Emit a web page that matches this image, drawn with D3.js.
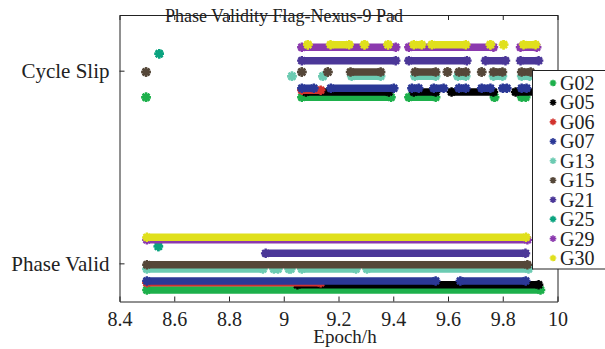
<!DOCTYPE html>
<html>
<head>
<meta charset="utf-8">
<script src="https://cdn.jsdelivr.net/npm/d3@7"></script>
<style>
  body { margin: 0; background: #fff; }
</style>
</head>
<body>
<div id="chart"></div>
<script>
// satellites, in plotting order
var sats = ["G02", "G05", "G06", "G07", "G13", "G15", "G21", "G25", "G29", "G30"];
var satColors = ["#1db04b", "#000000", "#d2322d", "#2b3896", "#6ccbb2",
                 "#554739", "#4b3798", "#0aa37f", "#8b39ae", "#e0e01c"];
// each satellite is shifted a little off its flag row
var satOffset = [-0.138, -0.111, -0.101, -0.091, -0.029, -0.007, 0.052, 0.088, 0.122, 0.135];

var flagNames = ["Phase Valid", "Cycle Slip"];   // flag 0, flag 1
var xTicks = [8.4, 8.6, 8.8, 9.0, 9.2, 9.4, 9.6, 9.8, 10.0];

// epochs (h) with flag = Phase Valid, as [start, end] runs; start == end is a single epoch
var validSpans = [
  [[8.50, 9.938]],
  [[9.05, 9.931]],
  [[8.50, 9.135]],
  [[8.50, 9.555], [9.645, 9.884]],
  [[8.50, 8.924], [8.964, 8.979], [9.019, 9.026], [9.066, 9.264], [9.304, 9.894]],
  [[8.50, 9.890]],
  [[8.934, 9.883]],
  [[8.542, 8.542]],
  [[8.50, 9.890]],
  [[8.50, 9.885]]
];

// epochs (h) with flag = Cycle Slip
var slipSpans = [
  [[8.497, 8.497], [9.066, 9.392], [9.457, 9.555], [9.770, 9.770], [9.869, 9.884]],
  [[9.081, 9.384], [9.475, 9.555], [9.613, 9.766], [9.847, 9.938]],
  [[9.066, 9.135]],
  [[9.066, 9.110], [9.172, 9.402], [9.468, 9.493], [9.548, 9.584], [9.640, 9.665],
   [9.723, 9.755], [9.800, 9.815], [9.869, 9.887]],
  [[9.030, 9.030], [9.143, 9.143], [9.248, 9.354], [9.479, 9.555], [9.636, 9.665],
   [9.766, 9.799], [9.869, 9.898]],
  [[8.497, 8.497], [9.066, 9.066], [9.161, 9.161], [9.244, 9.354], [9.480, 9.555],
   [9.598, 9.598], [9.640, 9.665], [9.723, 9.723], [9.766, 9.799], [9.869, 9.902]],
  [[9.066, 9.409], [9.457, 9.669], [9.737, 9.810], [9.865, 9.931]],
  [[8.545, 8.545]],
  [[9.066, 9.409], [9.457, 9.766], [9.865, 9.924]],
  [[9.088, 9.088], [9.171, 9.239], [9.295, 9.295], [9.381, 9.381], [9.475, 9.504],
   [9.541, 9.665], [9.755, 9.755], [9.803, 9.803], [9.876, 9.920]]
];

var W = 605, H = 349;
var plot = {left: 119.5, right: 557.5, top: 15, bottom: 301.5};
var serif = "'Liberation Serif', 'DejaVu Serif', serif";

var svg = d3.select("#chart").append("svg")
    .attr("width", W)
    .attr("height", H);

svg.append("rect").attr("width", W).attr("height", H).attr("fill", "#fff");

var x = d3.scaleLinear().domain([8.4, 10]).range([plot.left, plot.right]);
var y = d3.scaleLinear().domain([-0.198, 1.289]).range([plot.bottom, plot.top]);

// matlab style "*" marker, 8 arms
var star = {
  draw: function(ctx, size) {
    var r = Math.sqrt(size) / 2;
    for (var k = 0; k < 4; k++) {
      var a = k * Math.PI / 4;
      ctx.moveTo(r * Math.cos(a), r * Math.sin(a));
      ctx.lineTo(-r * Math.cos(a), -r * Math.sin(a));
    }
  }
};
var starPath = d3.symbol().type(star).size(90)();

// marks
var marks = svg.append("g");
sats.forEach(function(s, i) {
  [validSpans[i], slipSpans[i]].forEach(function(spans, flag) {
    var yy = y(flag + satOffset[i]);
    var g = marks.append("g")
      .attr("stroke", satColors[i])
      .attr("fill", "none");
    spans.forEach(function(sp) {
      if (sp[1] > sp[0]) {
        g.append("line")
          .attr("x1", x(sp[0])).attr("x2", x(sp[1]))
          .attr("y1", yy).attr("y2", yy)
          .attr("stroke-width", 7.5)
          .attr("stroke-linecap", "round");
      }
      [sp[0], sp[1]].forEach(function(v) {
        g.append("path")
          .attr("d", starPath)
          .attr("transform", "translate(" + x(v) + "," + yy + ")")
          .attr("stroke-width", 2.4);
      });
    });
  });
});

// axes (ticks point inward, box all round)
svg.append("g")
    .attr("transform", "translate(0," + plot.bottom + ")")
    .call(d3.axisBottom(x).tickValues(xTicks).tickSizeInner(-5).tickSizeOuter(0)
      .tickPadding(10).tickFormat(function(d) { return String(+d.toFixed(1)); }))
    .call(function(g) { g.selectAll("text").style("font-size", "20px"); });

svg.append("g")
    .attr("transform", "translate(0," + plot.top + ")")
    .call(d3.axisTop(x).tickValues(xTicks).tickSizeInner(-5).tickSizeOuter(0).tickFormat(""));

svg.append("g")
    .attr("transform", "translate(" + plot.left + ",0)")
    .call(d3.axisLeft(y).tickValues([0, 1]).tickSizeInner(-5).tickSizeOuter(0)
      .tickPadding(10).tickFormat(function(d) { return flagNames[d]; }))
    .call(function(g) { g.selectAll("text").style("font-size", "21px"); });

svg.append("g")
    .attr("transform", "translate(" + plot.right + ",0)")
    .call(d3.axisRight(y).tickValues([0, 1]).tickSizeInner(-5).tickSizeOuter(0).tickFormat(""));

svg.selectAll(".domain, .tick line").attr("stroke", "#222");

// title and x label
svg.append("text")
    .attr("x", 284).attr("y", 21.5)
    .attr("text-anchor", "middle")
    .style("font-size", "18px")
    .text("Phase Validity Flag-Nexus-9 Pad");

svg.append("text")
    .attr("x", 345).attr("y", 343)
    .attr("text-anchor", "middle")
    .style("font-size", "19px")
    .text("Epoch/h");

// legend
var leg = svg.append("g").attr("transform", "translate(532,70)");
leg.append("rect")
    .attr("x", 0.5).attr("y", 0.5)
    .attr("width", 90).attr("height", 198.5)
    .attr("fill", "#fff")
    .attr("stroke", "#222");

var legSym = d3.symbol().type(star).size(44)();
sats.forEach(function(s, i) {
  var ly = 13 + i * 19.45;
  leg.append("path")
      .attr("d", legSym)
      .attr("transform", "translate(21," + ly + ")")
      .attr("fill", "none")
      .attr("stroke", satColors[i])
      .attr("stroke-width", 1.6);
  leg.append("text")
      .attr("x", 28).attr("y", ly + 7)
      .style("font-size", "20px")
      .text(s);
});

svg.selectAll("text")
    .style("font-family", serif)
    .attr("fill", "#222");
</script>
</body>
</html>
